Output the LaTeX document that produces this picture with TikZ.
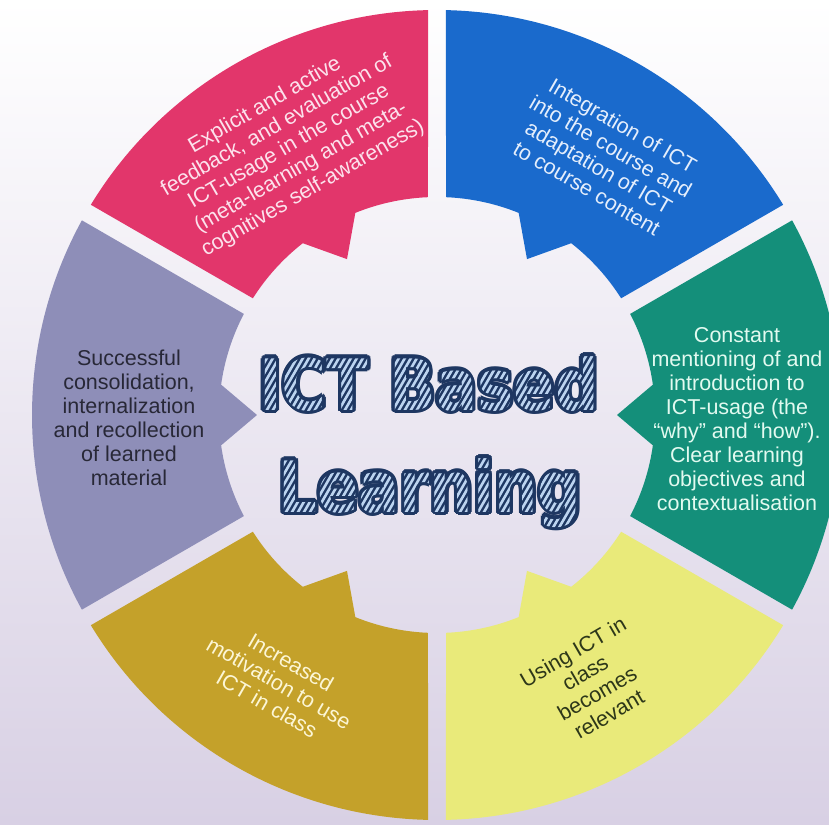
\documentclass[tikz,border=0pt]{standalone}
\usepackage{fontspec}
\setmainfont{Liberation Sans}
\newfontfamily\titlefont{DejaVu Sans}
\usetikzlibrary{fadings}
\definecolor{cpink}{RGB}{226,54,107}
\definecolor{cblue}{RGB}{26,106,204}
\definecolor{cteal}{RGB}{20,143,122}
\definecolor{cyellow}{RGB}{233,234,122}
\definecolor{cgold}{RGB}{196,161,42}
\definecolor{cgray}{RGB}{142,142,184}
\definecolor{tpinkc}{RGB}{252,226,236}
\definecolor{tbluec}{RGB}{228,238,252}
\definecolor{ttealc}{RGB}{226,250,240}
\definecolor{tdarkc}{RGB}{40,40,55}
\definecolor{tyelc}{RGB}{45,55,25}
\definecolor{tgoldc}{RGB}{252,246,214}
\definecolor{navy}{RGB}{30,55,98}
\definecolor{stripec}{RGB}{188,212,240}
\definecolor{bgtop}{RGB}{255,255,255}
\definecolor{bgbot}{RGB}{216,208,228}
\newcommand\ttlfont{\titlefont\bfseries\fontsize{71}{71}\selectfont}
\newcommand\ttlone{\scalebox{0.86}[1]{ICT Based}}
\newcommand\ttltwo{\scalebox{0.86}[1]{Learning}}
\begin{document}
\pgfdeclarefading{ictfade}{%
  \begin{pgfpicture}%
    \pgfpathrectangle{\pgfpoint{-380pt}{-130pt}}{\pgfpoint{760pt}{260pt}}%
    \pgfusepath{use as bounding box}%
    \pgftext[base,at={\pgfpoint{-8pt}{5pt}}]{\color{white}\ttlfont\ttlone}%
    \pgftext[base,at={\pgfpoint{-7pt}{-97pt}}]{\color{white}\ttlfont\ttltwo}%
  \end{pgfpicture}}%
\begin{tikzpicture}[x=1pt,y=1pt,
  segtext/.style={align=center, inner sep=0pt, font=\fontsize{21.5}{24}\selectfont},
  ttl/.style={anchor=base, inner sep=0pt, font=\ttlfont}]
\useasboundingbox (-437,-409) rectangle (392,415);
\shade[top color=bgtop, bottom color=bgbot] (-437,-409) rectangle (392,415);
% ring segments
\foreach \c/\col in {120/cpink,60/cblue,0/cteal,-60/cyellow,-120/cgold,180/cgray}{
  \fill[\col] ({\c+28.73}:405) arc[start angle=\c+28.73, end angle=\c-28.73, radius=405]
    -- ({\c-27.63}:218) arc[start angle=\c-27.63, end angle=\c-8, radius=218]
    -- (\c:180) -- ({\c+8}:218) arc[start angle=\c+8, end angle=\c+27.63, radius=218] -- cycle;
}
% segment texts
\node[segtext, text=tpinkc, rotate=30] (tpink) at (-148,268)
  {Explicit and active\\feedback, and evaluation of\\ICT-usage in the course\\(meta-learning and meta-\\cognitives self-awareness)};
\node[segtext, text=tbluec, rotate=-30] (tblue) at (168,258)
  {Integration of ICT\\into the course and\\adaptation of ICT\\to course content};
\node[segtext, text=ttealc] (tteal) at (300,-4)
  {Constant\\mentioning of and\\introduction to\\ICT-usage (the\\“why” and “how”).\\Clear learning\\objectives and\\contextualisation};
\node[segtext, text=tyelc, rotate=30] (tyellow) at (154,-268)
  {Using ICT in\\class\\becomes\\relevant};
\node[segtext, text=tgoldc, rotate=-30] (tgold) at (-158,-268)
  {Increased\\motivation to use\\ICT in class};
\node[segtext, text=tdarkc] (tgray) at (-308,-3)
  {Successful\\consolidation,\\internalization\\and recollection\\of learned\\material};
% title: navy outline copies
\foreach \i in {1,...,12}{
  \node[ttl, text=navy] (tAo\i) at ({-8+3.2*cos(\i*30)},{5+3.2*sin(\i*30)}) {\ttlone};
  \node[ttl, text=navy] (tBo\i) at ({-7+3.2*cos(\i*30)},{-97+3.2*sin(\i*30)}) {\ttltwo};
}
\node[ttl, text=navy] (tAs) at (-6,3) {\ttlone};
\node[ttl, text=navy] (tBs) at (-5,-99) {\ttltwo};
\node[ttl, text=navy] (tA) at (-8,5) {\ttlone};
\node[ttl, text=navy] (tB) at (-7,-97) {\ttltwo};
% light hatching inside the letters
\draw[stripec, line width=2.6, path fading=ictfade, fit fading=false]
  foreach \k in {0,...,101} {({-380+6*\k},-130) -- ++(150.1,260)};
\end{tikzpicture}
\end{document}
